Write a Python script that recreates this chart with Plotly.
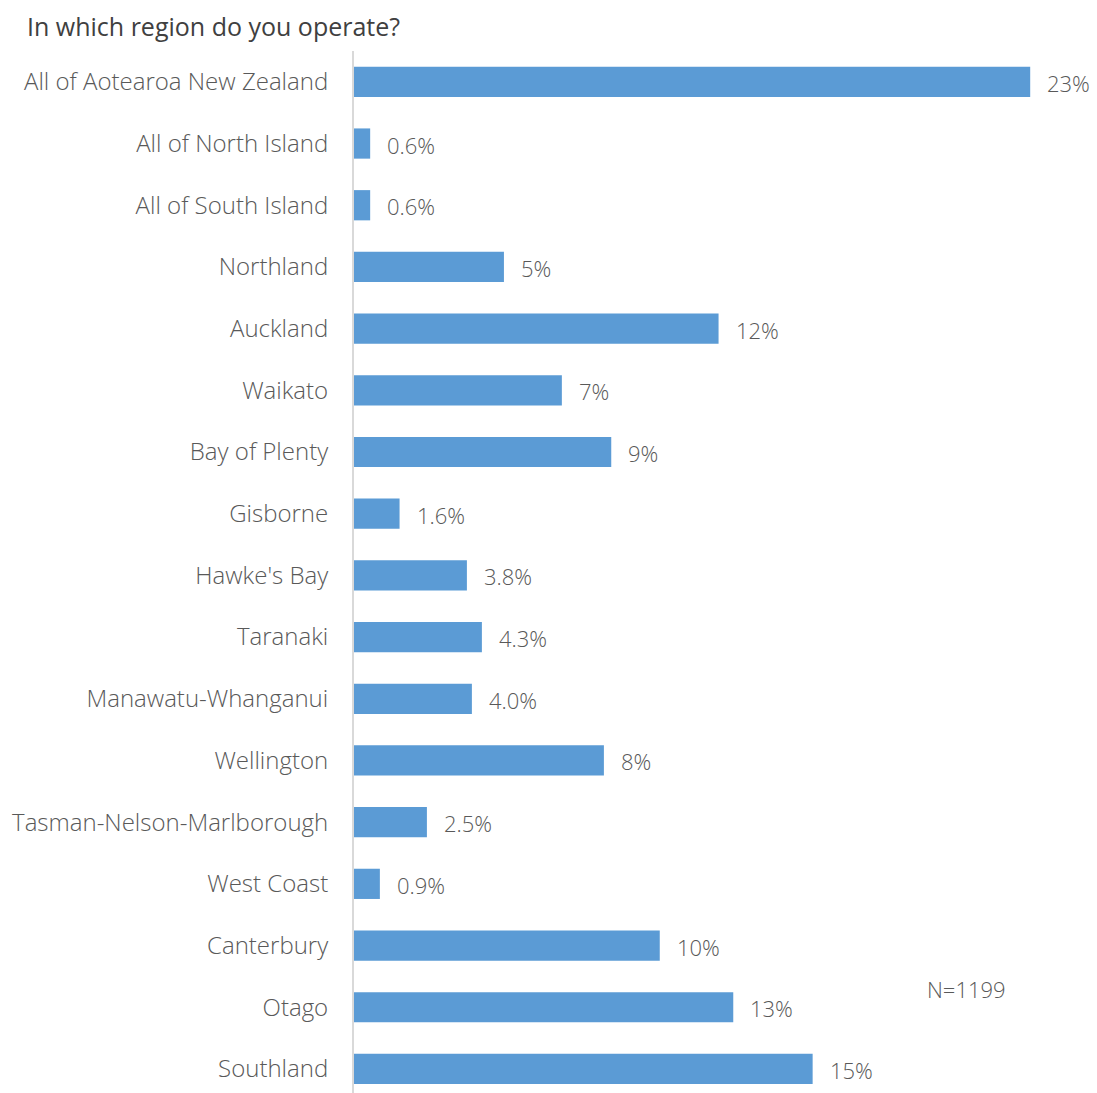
import plotly.graph_objects as go

categories = [
    "All of Aotearoa New Zealand", "All of North Island", "All of South Island",
    "Northland", "Auckland", "Waikato", "Bay of Plenty", "Gisborne",
    "Hawke's Bay", "Taranaki", "Manawatu-Whanganui", "Wellington",
    "Tasman-Nelson-Marlborough", "West Coast", "Canterbury", "Otago", "Southland",
]
values = [23.0, 0.55, 0.55, 5.1, 12.4, 7.07, 8.75, 1.55, 3.84, 4.35, 4.01, 8.5,
          2.48, 0.88, 10.4, 12.9, 15.6]
value_labels = ["23%", "0.6%", "0.6%", "5%", "12%", "7%", "9%", "1.6%", "3.8%",
                "4.3%", "4.0%", "8%", "2.5%", "0.9%", "10%", "13%", "15%"]

W, H = 1097, 1093
FONT = "Open Sans"
GREY = "#595959"
L, T = 354, 51
PW, PH = W - L, H - T

fig = go.Figure()
fig.add_trace(go.Bar(
    y=categories, x=values, orientation="h",
    marker=dict(color="#5B9BD5", line=dict(width=0)),
    width=0.49, hoverinfo="skip",
))

for c, v, t in zip(categories, values, value_labels):
    fig.add_annotation(x=v, y=c, text=t, showarrow=False, xanchor="left",
                       xshift=15, yshift=-1,
                       font=dict(family=FONT, size=22, color=GREY, weight=300))

fig.add_annotation(xref="paper", yref="paper", x=(966 - L) / PW,
                   y=1 - (989 - T) / PH, text="N=1199",
                   showarrow=False, xanchor="center", yanchor="middle",
                   font=dict(family=FONT, size=22, color=GREY, weight=300))

fig.update_layout(
    width=W, height=H,
    margin=dict(l=L, r=0, t=T, b=0),
    paper_bgcolor="white", plot_bgcolor="white",
    showlegend=False,
    title=dict(text="In which region do you operate?", x=27 / W, xanchor="left",
               y=1 - 27 / H, yanchor="middle",
               font=dict(family=FONT, size=25, color="#404040")),
    xaxis=dict(range=[0, PW / 29.4], visible=False, fixedrange=True),
    yaxis=dict(type="category", range=[16.39, -0.5], showgrid=False,
               showline=True, linecolor="#D9D9D9", linewidth=2,
               ticks="", ticklabelstandoff=19,
               tickfont=dict(family=FONT, size=24, color=GREY, weight=300)),
)

fig.write_html("out.html")
